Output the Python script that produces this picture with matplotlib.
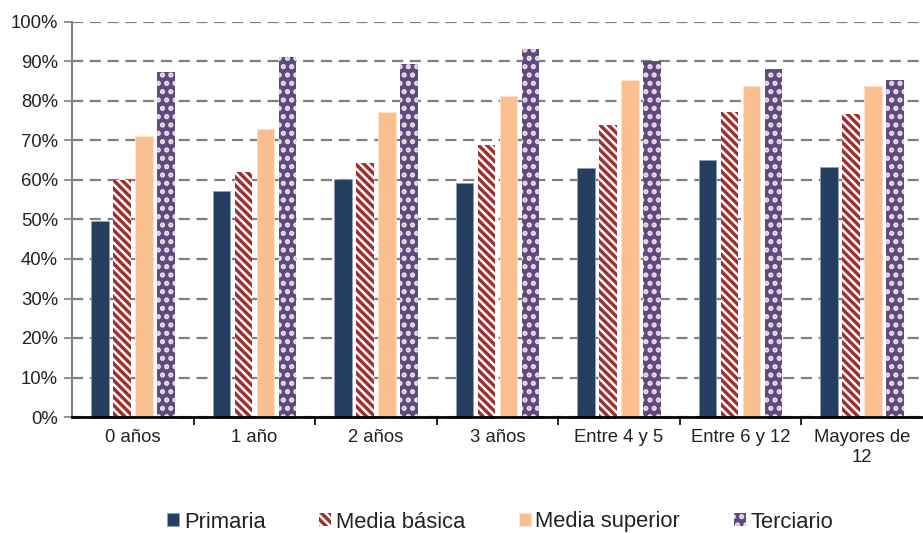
import matplotlib
matplotlib.use("Agg")
import matplotlib.pyplot as plt
import numpy as np

plt.rcParams['font.family'] = ['Liberation Sans', 'DejaVu Sans']

categories = ["0 años", "1 año", "2 años", "3 años", "Entre 4 y 5", "Entre 6 y 12", "Mayores de\n12"]
primaria = [49.7, 57.3, 60.3, 59.2, 63.0, 65.0, 63.3]
media_basica = [60.0, 62.1, 64.4, 68.9, 73.8, 77.2, 76.6]
media_superior = [71.2, 72.8, 77.1, 81.3, 85.3, 83.9, 83.9]
terciario = [87.3, 91.1, 89.4, 93.1, 90.2, 88.2, 85.4]
series_names = ["Primaria", "Media básica", "Media superior", "Terciario"]

fig = plt.figure(figsize=(9.23, 5.33), dpi=100)
ax = fig.add_axes([72 / 923, 1 - 417 / 533, 1 - 72 / 923, (417 - 22) / 533])

x = np.arange(len(categories))
pitch = 0.181
width = 0.145
offsets = (np.arange(4) - 1.5) * pitch

plt.rcParams['hatch.linewidth'] = 2.5
b1 = ax.bar(x + offsets[0], primaria, width, color='#243F60', edgecolor='#8FA0B5', linewidth=0.6, zorder=3,
            label=series_names[0])
b2 = ax.bar(x + offsets[1], media_basica, width, facecolor='white', edgecolor='#A0302F', hatch='\\\\\\\\',
            linewidth=0, zorder=3, label=series_names[1])
b3 = ax.bar(x + offsets[2], media_superior, width, color='#FAC090', edgecolor='#FDE3CC', linewidth=0.6, zorder=3,
            label=series_names[2])
b4 = ax.bar(x + offsets[3], terciario, width, facecolor='#604A7B', edgecolor='#E8E2F0', hatch='..',
            linewidth=0, zorder=3, label=series_names[3])

ax.set_xlim(-0.5, len(categories) - 0.5)
ax.set_ylim(0, 100)
ax.set_yticks(np.arange(0, 101, 10))
ax.set_yticklabels([f"{v}%" for v in range(0, 101, 10)])
ax.yaxis.grid(True, color='#7F7F7F', linestyle=(0, (5, 3)), linewidth=1.6, zorder=0)
ax.set_axisbelow(True)

ax.set_xticks(x)
ax.set_xticklabels(categories)
ax.set_xticks(np.arange(0.5, len(categories) - 0.5, 1), minor=True)
ax.tick_params(axis='x', which='major', length=0, pad=9, labelsize=13.3, colors='#000000', labelcolor='#222222')
ax.tick_params(axis='x', which='minor', length=6, width=1.2, color='#000000', direction='out')
ax.tick_params(axis='y', length=6, width=1.2, color='#808080', labelsize=13.3, labelcolor='#222222', pad=4)

for side in ['top', 'right']:
    ax.spines[side].set_visible(False)
ax.spines['left'].set_color('#808080')
ax.spines['left'].set_linewidth(1.5)
ax.spines['bottom'].set_color('#000000')
ax.spines['bottom'].set_linewidth(2)
ax.spines['bottom'].set_zorder(4)

leg = fig.legend(handles=[b1, b2, b3, b4], loc='center', bbox_to_anchor=(0.542, 1 - 522 / 533), ncol=4,
                 frameon=False, fontsize=15.8, handlelength=0.55, handleheight=0.55, handletextpad=0.2,
                 columnspacing=2.45, borderaxespad=0)
for t in leg.get_texts():
    t.set_color('#222222')

fig.savefig("out.png", dpi=100)
